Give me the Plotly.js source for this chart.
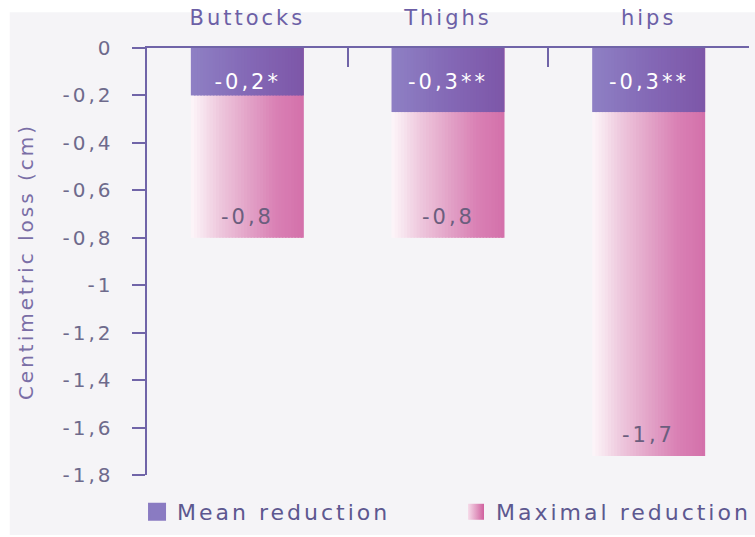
<!DOCTYPE html>
<html>
<head>
<meta charset="utf-8">
<script src="https://cdn.plot.ly/plotly-3.0.1.min.js"></script>
<style>
  html, body { margin: 0; padding: 0; background: #ffffff; }
  #chart { width: 755px; height: 537px; }
  .main-svg text { letter-spacing: 3px; }
</style>
</head>
<body>
<div id="chart"></div>
<script>
// ---- data ----
const categories = ['Buttocks', 'Thighs', 'hips'];
const meanReduction = [-0.2, -0.27, -0.27];
const maxReduction = [-0.8, -0.8, -1.72];
const meanLabels = ['-0,2*', '-0,3**', '-0,3**'];
const maxLabels = ['-0,8', '-0,8', '-1,7'];
const yTickVals = [0, -0.2, -0.4, -0.6, -0.8, -1, -1.2, -1.4, -1.6, -1.8];
const yTickText = ['0', '-0,2', '-0,4', '-0,6', '-0,8', '-1', '-1,2', '-1,4', '-1,6', '-1,8'];

// ---- style ----
const BAR_W = 0.563;
const N_SLICES = 36;
const pinkStops = [[0, '#fdf7fa'], [0.25, '#eec8dd'], [0.5, '#e3a4c8'], [0.75, '#d981b5'], [1, '#d470aa']];
const purpleStops = [[0, '#8e80c4'], [0.5, '#8469b6'], [1, '#7d56a8']];
const axisColor = '#7064a8';

function hexToRgb(h) {
  return [parseInt(h.slice(1, 3), 16), parseInt(h.slice(3, 5), 16), parseInt(h.slice(5, 7), 16)];
}
function colorAt(stops, t) {
  for (let i = 0; i < stops.length - 1; i++) {
    const [t0, c0] = stops[i], [t1, c1] = stops[i + 1];
    if (t >= t0 && t <= t1) {
      const f = (t - t0) / (t1 - t0);
      const a = hexToRgb(c0), b = hexToRgb(c1);
      const c = a.map((v, k) => Math.round(v + (b[k] - v) * f));
      return 'rgb(' + c.join(',') + ')';
    }
  }
  return stops[stops.length - 1][1];
}
function sliceTraces(values, stops) {
  const step = BAR_W / N_SLICES;
  const out = [];
  for (let i = 0; i < N_SLICES; i++) {
    out.push({
      type: 'bar',
      x: categories,
      y: values,
      width: i < N_SLICES - 1 ? step * 1.5 : step,
      offset: -BAR_W / 2 + i * step,
      marker: { color: colorAt(stops, (i + 0.5) / N_SLICES), line: { width: 0 } },
      showlegend: false,
      hoverinfo: 'skip'
    });
  }
  return out;
}

const traces = [].concat(
  sliceTraces(maxReduction, pinkStops),
  sliceTraces(meanReduction, purpleStops),
  [
    { type: 'scatter', mode: 'markers', x: [null], y: [null], name: 'Mean reduction', legend: 'legend',
      marker: { symbol: 'square', size: 16, color: '#8a7bc2', line: { width: 2, color: '#8a7bc2' } }, hoverinfo: 'skip' },
    { type: 'scatter', mode: 'markers', x: [null], y: [null], name: 'Maximal reduction', legend: 'legend2',
      marker: { symbol: 'square', size: 16, color: '#f6dcea', line: { width: 0 },
                gradient: { type: 'horizontal', color: '#d0609e' } }, hoverinfo: 'skip' }
  ]
);

const annotations = [];
categories.forEach((c, i) => {
  annotations.push({ x: c, y: 0, xref: 'x', yref: 'y', yshift: -34, yanchor: 'middle',
    text: meanLabels[i], showarrow: false, font: { size: 21, color: '#ffffff' } });
  annotations.push({ x: c, y: maxReduction[i], xref: 'x', yref: 'y', yshift: 21, yanchor: 'middle',
    text: maxLabels[i], showarrow: false, font: { size: 21, color: '#6b5e7e' } });
});

const legendCommon = {
  orientation: 'h', xref: 'container', yref: 'container', xanchor: 'left',
  y: 0.0466, yanchor: 'middle', font: { size: 22, color: '#5d5890' }, bgcolor: 'rgba(0,0,0,0)'
};

const layout = {
  width: 755, height: 537,
  margin: { l: 147, r: 6, t: 48, b: 62 },
  paper_bgcolor: '#ffffff',
  plot_bgcolor: 'rgba(0,0,0,0)',
  font: { family: 'DejaVu Sans, sans-serif', size: 20, color: '#6e6a8c' },
  barmode: 'overlay',
  showlegend: true,
  legend: Object.assign({}, legendCommon, { x: 0.1815, entrywidth: 235 }),
  legend2: Object.assign({}, legendCommon, { x: 0.604, entrywidth: 275 }),
  xaxis: {
    type: 'category', side: 'top', range: [-0.5, 2.5],
    tickson: 'boundaries', ticks: 'inside', ticklen: 19, tickwidth: 2, tickcolor: axisColor,
    showline: true, linecolor: axisColor, linewidth: 2.5, showgrid: false, zeroline: false,
    tickfont: { size: 21, color: '#6c5fa6' }, ticklabelstandoff: 12, fixedrange: true
  },
  yaxis: {
    range: [-1.8, 0], tickmode: 'array', tickvals: yTickVals, ticktext: yTickText,
    ticks: 'outside', ticklen: 13, tickwidth: 2, tickcolor: axisColor,
    showline: true, linecolor: axisColor, linewidth: 2.5, showgrid: false, zeroline: false,
    tickfont: { size: 20, color: '#6e6a8c' }, ticklabelstandoff: 14,
    title: { text: 'Centimetric loss (cm)', font: { size: 20, color: '#7a6ea6' }, standoff: 36 },
    fixedrange: true
  },
  shapes: [{
    type: 'rect', xref: 'paper', yref: 'paper', layer: 'below',
    x0: -0.228, x1: 1.02, y0: -0.1405, y1: 1.084,
    fillcolor: '#f5f4f7', line: { width: 0 }
  }],
  annotations: annotations
};

Plotly.newPlot('chart', traces, layout, { displayModeBar: false, staticPlot: true });
</script>
</body>
</html>
